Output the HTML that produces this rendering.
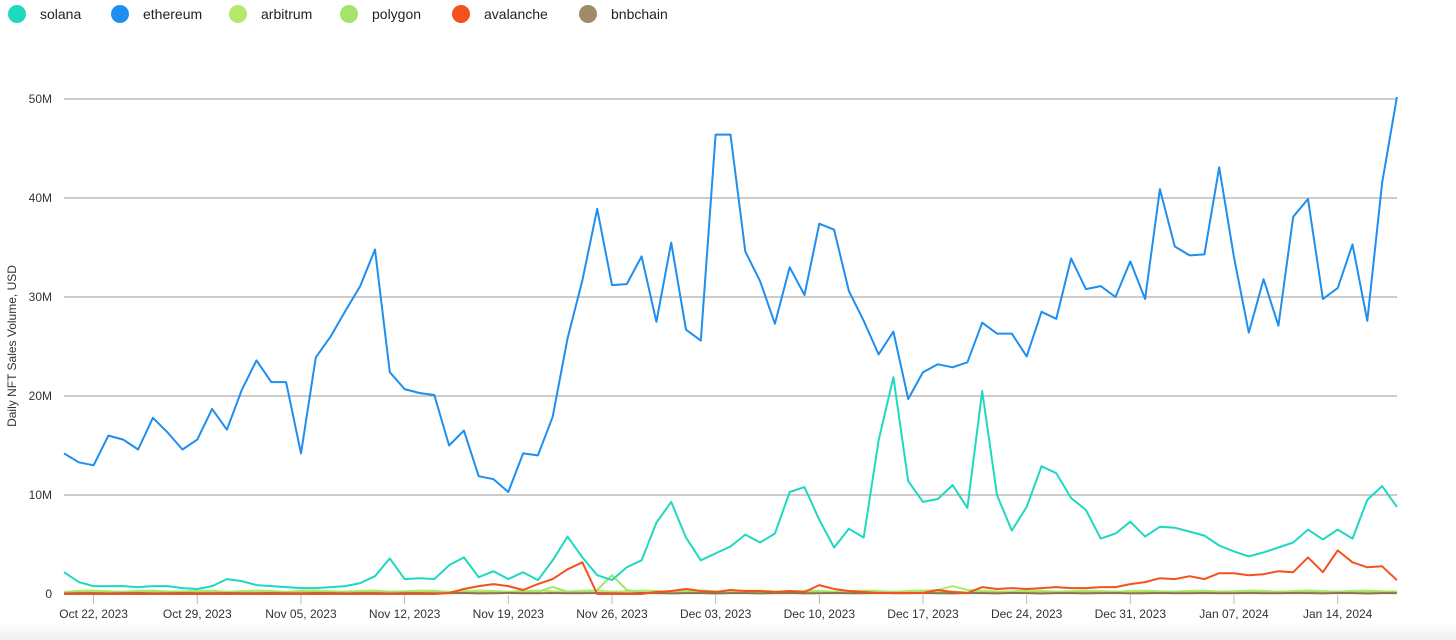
<!DOCTYPE html>
<html><head><meta charset="utf-8"><style>
html,body{margin:0;padding:0;background:#fff;width:1456px;height:640px;overflow:hidden;font-family:"Liberation Sans",sans-serif}
</style></head><body>
<svg id="c" width="1456" height="640" xmlns="http://www.w3.org/2000/svg" font-family="Liberation Sans, sans-serif"></svg>
<script>
const eth=[14.2,13.3,13.0,16.0,15.6,14.6,17.8,16.3,14.6,15.6,18.7,16.6,20.6,23.6,21.4,21.4,14.2,23.9,26.0,28.6,31.1,34.8,22.4,20.7,20.3,20.1,15.0,16.5,11.9,11.6,10.3,14.2,14.0,17.9,25.8,31.7,38.9,31.2,31.3,34.1,27.5,35.5,26.7,25.6,46.4,46.4,34.6,31.6,27.3,33.0,30.2,37.4,36.8,30.6,27.6,24.2,26.5,19.7,22.4,23.2,22.9,23.4,27.4,26.3,26.3,24.0,28.5,27.8,33.9,30.8,31.1,30.0,33.6,29.8,40.9,35.1,34.2,34.3,43.1,34.0,26.4,31.8,27.1,38.1,39.9,29.8,30.9,35.3,27.6,41.5,50.2];
const sol=[2.2,1.2,0.8,0.8,0.8,0.7,0.8,0.8,0.6,0.5,0.8,1.5,1.3,0.9,0.8,0.7,0.6,0.6,0.7,0.8,1.1,1.8,3.6,1.5,1.6,1.5,2.9,3.7,1.7,2.3,1.5,2.2,1.4,3.4,5.8,3.7,1.9,1.4,2.7,3.4,7.2,9.3,5.7,3.4,4.1,4.8,6.0,5.2,6.1,10.3,10.8,7.5,4.7,6.6,5.7,15.5,21.9,11.4,9.3,9.6,11.0,8.7,20.5,10.0,6.4,8.8,12.9,12.2,9.7,8.5,5.6,6.1,7.3,5.8,6.8,6.7,6.3,5.9,4.9,4.3,3.8,4.2,4.7,5.2,6.5,5.5,6.5,5.6,9.5,10.9,8.8];
const ava=[0,0,0,0,0,0,0,0,0,0,0,0,0,0,0,0,0,0,0,0,0,0,0,0,0,0,0.1,0.5,0.8,1.0,0.8,0.4,1.0,1.5,2.5,3.2,0,0,0,0,0.2,0.3,0.5,0.3,0.2,0.4,0.3,0.3,0.2,0.3,0.2,0.9,0.5,0.3,0.2,0.1,0.1,0.1,0.1,0.4,0.2,0.1,0.7,0.5,0.6,0.5,0.6,0.7,0.6,0.6,0.7,0.7,1.0,1.2,1.6,1.5,1.8,1.5,2.1,2.1,1.9,2.0,2.3,2.2,3.7,2.2,4.4,3.2,2.7,2.8,1.4];
const poly=eth.map((_,i)=>i==37?1.9:i==36||i==38?0.4:i==33?0.7:0.15+0.1*Math.abs(Math.sin(i*1.7)));
const arb=eth.map((_,i)=>i==60?0.8:i==59||i==61?0.4:0.2+0.15*Math.abs(Math.sin(i*2.3)));
const bnb=eth.map((_,i)=>0.05+0.05*Math.abs(Math.sin(i)));
const X=i=>64+i*14.81, Y=v=>594-v*9.9;
let s='<defs><linearGradient id="g" x1="0" y1="0" x2="0" y2="1"><stop offset="0" stop-color="#fff"/><stop offset="1" stop-color="#f0f0f0"/></linearGradient></defs><rect x="0" y="622" width="1456" height="18" fill="url(#g)"/>';
for(let k=1;k<=5;k++){const y=Y(k*10);s+=`<line x1="64" x2="1397" y1="${y}" y2="${y}" stroke="#999" stroke-width="1"/><text x="52" y="${y+4}" font-size="12" fill="#333" text-anchor="end">${k*10}M</text>`}
s+=`<text x="52" y="598" font-size="12" fill="#333" text-anchor="end">0</text>`;
const labs=["Oct 22, 2023","Oct 29, 2023","Nov 05, 2023","Nov 12, 2023","Nov 19, 2023","Nov 26, 2023","Dec 03, 2023","Dec 10, 2023","Dec 17, 2023","Dec 24, 2023","Dec 31, 2023","Jan 07, 2024","Jan 14, 2024"];
labs.forEach((l,j)=>{const x=X(2+7*j);s+=`<line x1="${x}" x2="${x}" y1="595" y2="604" stroke="#bbb"/><text x="${x}" y="618" font-size="12" fill="#333" text-anchor="middle">${l}</text>`});
s+=`<text transform="translate(16,346) rotate(-90)" font-size="12" fill="#333" text-anchor="middle">Daily NFT Sales Volume, USD</text>`;
const line=(d,c)=>`<polyline fill="none" stroke="${c}" stroke-width="2" stroke-linejoin="round" points="${d.map((v,i)=>X(i).toFixed(1)+','+Y(v).toFixed(1)).join(' ')}"/>`;
s+=line(arb,"#b5e96b")+line(poly,"#a6e36a")+line(bnb,"#8a7550")+line(ava,"#f4511e")+line(sol,"#1fd8c0")+line(eth,"#1e8ff0");
const leg=[["solana","#1fd8c0",17],["ethereum","#1e8ff0",120],["arbitrum","#b5e96b",238],["polygon","#a6e36a",349],["avalanche","#f4511e",461],["bnbchain","#a08a6a",588]];
leg.forEach(([n,c,x])=>{s+=`<circle cx="${x}" cy="14" r="9" fill="${c}"/><text x="${x+23}" y="19" font-size="14" fill="#222">${n}</text>`});
document.getElementById('c').innerHTML=s;
</script>
</body></html>
